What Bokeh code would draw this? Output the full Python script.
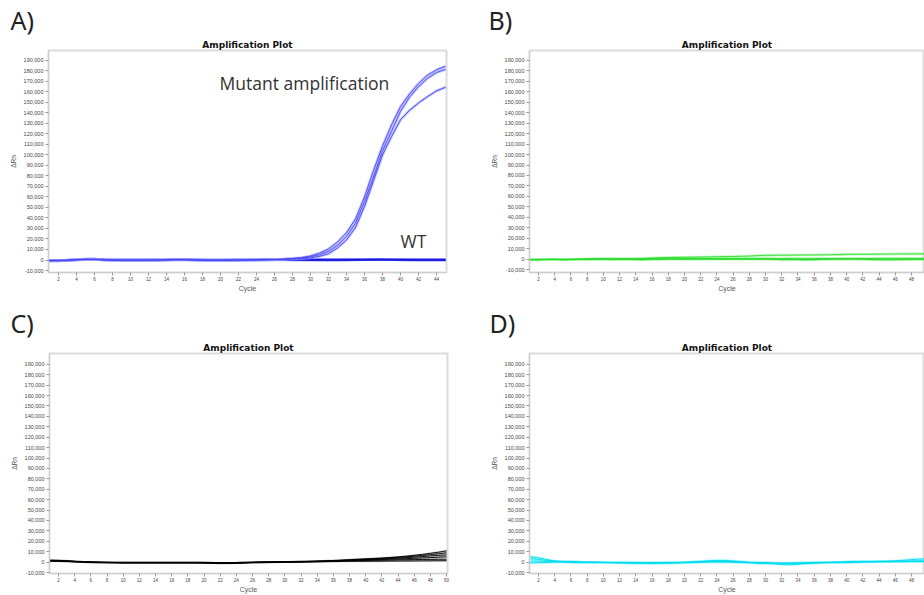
from bokeh.plotting import figure
from bokeh.models import FixedTicker, NumeralTickFormatter, Title, Label
from bokeh.layouts import column, row
from bokeh.embed import file_html
from bokeh.resources import INLINE

# ---------------- data ----------------
cycles_a = list(range(1, 46))
cycles_50 = list(range(1, 51))

# Panel A - mutant amplification curves
mut_a1 = [-600, -500, -200, 200, 600, 500, 0, -100, -100, -100,
          -100, -100, -50, 100, 300, 200, 0, -100, -100, -100,
          -50, 0, 100, 200, 300, 500, 800, 1500, 2300, 3800,
          6500, 10500, 17000, 26000, 39000, 60000, 85000, 108500, 128500, 146000,
          158000, 168000, 176000, 181000, 184500]
mut_a2 = [-800, -700, -300, 100, 500, 600, 100, -100, -200, -200,
          -150, -100, -100, 0, 200, 300, 100, -100, -200, -200,
          -150, -100, 0, 100, 200, 400, 700, 1200, 1800, 3000,
          5000, 8300, 14000, 22500, 35000, 55500, 79000, 104000, 122500, 141500,
          155000, 165000, 173000, 178500, 181500]
mut_a3 = [-400, -300, -100, 300, 800, 700, 200, 0, -100, -100,
          -100, -50, 0, 200, 400, 300, 100, 0, -100, -100,
          -100, -50, 0, 100, 200, 300, 500, 800, 1100, 2000,
          3500, 6000, 11500, 19000, 31000, 51000, 75500, 100000, 117500, 133500,
          142500, 149500, 155500, 161000, 164500]
# Panel A - wild type
wt_a1 = [-900, -800, -400, 100, 600, 700, 300, 0, -100, -100,
         -100, -100, -50, 100, 300, 300, 100, -100, -200, -200,
         -150, -100, -50, 0, 100, 100, 100, 0, 0, 0,
         -100, -100, -100, 0, 100, 200, 300, 300, 200, 100,
         0, -100, -100, -100, -100]
wt_a2 = [-500, -400, -200, 200, 800, 900, 400, 100, 0, 0,
         0, 0, 50, 200, 400, 400, 200, 0, -100, -100,
         -100, -50, 0, 100, 200, 200, 200, 100, 100, 100,
         0, 0, 0, 100, 200, 300, 400, 400, 300, 200,
         100, 0, 0, 0, 0]
wt_a3 = [-300, -200, 0, 300, 700, 800, 400, 200, 100, 100,
         100, 100, 100, 200, 400, 400, 200, 100, 0, 0,
         0, 100, 200, 300, 400, 400, 500, 500, 500, 500,
         500, 500, 500, 500, 500, 500, 500, 500, 500, 500,
         500, 500, 500, 500, 500]

# Panel B - green
grn_1 = [-500, -600, -400, -300, -500, -300, -200, -100, 0, 100,
         200, 300, 400, 500, 700, 1000, 1300, 1500, 1700, 1800,
         1900, 2000, 2100, 2300, 2400, 2500, 2700, 2900, 3300, 3600,
         3700, 3800, 3800, 3900, 4000, 4000, 4100, 4200, 4300, 4500,
         4600, 4600, 4700, 4800, 4800, 4900, 5000, 5000, 5000, 5100]
grn_2 = [-300, -400, -300, -200, -300, -200, -100, 0, 100, 200,
         200, 200, 300, 300, 400, 600, 700, 800, 800, 700,
         600, 500, 500, 500, 500, 500, 500, 500, 500, 500,
         500, 500, 500, 500, 500, 500, 500, 500, 600, 600,
         600, 600, 600, 700, 700, 700, 700, 700, 700, 700]
grn_3 = [-800, -700, -400, -300, -700, -500, -200, -100, 0, -200,
         -300, -300, -300, -500, -600, -300, -100, 0, 0, 0,
         0, 0, 0, 0, 0, 0, 0, 0, 0, 0,
         -200, -600, -400, -500, -700, -600, -300, -100, 0, 0,
         0, -200, -500, -600, -600, -600, -500, -400, -300, -300]
grn_4 = [-400, -300, -200, -100, -300, -200, -100, 0, 100, 100,
         0, -100, -200, -300, -400, -200, 0, 100, 100, 100,
         100, 100, 100, 100, 100, 100, 100, 100, 100, 100,
         0, -300, -200, -300, -400, -300, -100, 0, 100, 100,
         100, 0, -200, -300, -300, -300, -200, -200, -100, -100]

# Panel C - black
blk_1 = [1800, 1600, 1200, 700, 300, 0, -200, -300, -400, -500,
         -500, -500, -500, -500, -500, -500, -500, -500, -500, -600,
         -800, -900, -900, -800, -500, -300, -100, 0, 100, 200,
         300, 500, 700, 900, 1200, 1500, 1900, 2300, 2700, 3100,
         3500, 3900, 4400, 5000, 5700, 6500, 7400, 8400, 9500, 10800]
blk_2 = [1500, 1400, 1000, 600, 200, -100, -300, -400, -500, -600,
         -600, -600, -600, -600, -600, -600, -600, -600, -600, -700,
         -900, -1000, -1000, -900, -600, -400, -200, -100, 0, 100,
         200, 400, 600, 800, 1000, 1300, 1600, 2000, 2400, 2800,
         3100, 3500, 4000, 4500, 5000, 5700, 6400, 7200, 8000, 8900]
blk_3 = [1300, 1200, 900, 500, 200, 0, -200, -300, -400, -500,
         -500, -500, -500, -500, -500, -500, -500, -500, -500, -600,
         -700, -800, -800, -700, -500, -300, -100, 0, 100, 200,
         300, 400, 500, 700, 900, 1100, 1400, 1700, 2100, 2500,
         2800, 3100, 3400, 3800, 4300, 4800, 5300, 5900, 6400, 7000]
blk_4 = [1100, 1000, 800, 400, 100, -100, -300, -400, -500, -600,
         -600, -600, -600, -600, -600, -600, -600, -600, -600, -700,
         -900, -1000, -1000, -900, -700, -400, -200, -100, 0, 100,
         200, 300, 400, 600, 800, 1000, 1200, 1500, 1800, 2000,
         2300, 2500, 2800, 3000, 3300, 3600, 4000, 4300, 4700, 5100]
blk_5 = [1600, 1400, 1000, 600, 200, 0, -200, -300, -400, -400,
         -400, -400, -400, -400, -400, -400, -400, -400, -400, -500,
         -700, -800, -800, -700, -400, -200, -100, 0, 0, 100,
         200, 300, 400, 500, 700, 900, 1100, 1300, 1400, 1500,
         1700, 1800, 2000, 2200, 2300, 2400, 2500, 2600, 2700, 2800]
blk_6 = [900, 800, 600, 300, 0, -200, -400, -500, -600, -600,
         -600, -600, -600, -600, -600, -600, -600, -600, -600, -700,
         -800, -900, -900, -800, -600, -400, -300, -200, -100, 0,
         100, 200, 300, 400, 500, 600, 700, 700, 800, 800,
         900, 900, 1000, 1000, 1100, 1100, 1200, 1200, 1300, 1300]

# Panel D - cyan
cyn_1 = [5000, 4200, 2500, 1000, 600, 300, 0, -200, -300, -400,
         -500, -600, -700, -800, -900, -900, -800, -700, -600, -300,
         0, 400, 800, 1000, 900, 500, 0, -500, -800, -900,
         -1000, -1100, -1000, -900, -700, -500, -300, -200, -100, 0,
         200, 400, 600, 700, 900, 1200, 1700, 2400, 2900, 3200]
cyn_2 = [3200, 2600, 1600, 800, 500, 200, 0, -100, -200, -300,
         -400, -500, -600, -700, -800, -800, -700, -600, -500, -300,
         0, 600, 1200, 1600, 1600, 1000, 300, -300, -700, -1000,
         -1500, -2200, -2500, -2000, -1400, -900, -600, -400, -200, 0,
         200, 300, 400, 500, 600, 800, 900, 1000, 1100, 1200]
cyn_3 = [1000, 900, 700, 400, 300, 100, 0, -100, -200, -300,
         -400, -500, -500, -600, -700, -700, -600, -500, -400, -200,
         0, 200, 400, 500, 400, 200, 0, -300, -600, -800,
         -900, -1000, -1100, -1000, -800, -600, -400, -300, -100, 0,
         200, 300, 400, 500, 500, 600, 700, 700, 800, 800]
cyn_4 = [-800, -600, -300, 0, 100, 0, -100, -200, -300, -400,
         -500, -600, -700, -800, -900, -1000, -1000, -900, -800, -600,
         -400, -200, 0, 100, 100, 0, -200, -500, -800, -1000,
         -1200, -1300, -1200, -1000, -900, -700, -500, -400, -200, 0,
         100, 200, 200, 300, 300, 400, 400, 500, 500, 500]

y_ticks = list(range(-10000, 190001, 10000))
x_ticks_a = list(range(2, 46, 2))
x_ticks_50 = list(range(2, 51, 2))

panel_letters = ["A)", "B)", "C)", "D)"]
plot_title = "Amplification Plot"
x_label = "Cycle"
y_label = "\u0394Rn"


def make_panel(letter, width, height, x_rng, y_rng, b_left, b_right, b_top,
               b_bottom, x_ticks, title_offset, letter_offset):
    p = figure(width=width, height=height, x_range=x_rng, y_range=y_rng,
               output_backend="svg", toolbar_location=None,
               min_border_left=b_left, min_border_right=b_right,
               min_border_top=b_top, min_border_bottom=b_bottom)
    p.grid.visible = False
    p.background_fill_color = "white"
    p.border_fill_color = "white"
    p.outline_line_color = "#dcdcdc"
    p.outline_line_width = 2

    p.yaxis.ticker = FixedTicker(ticks=y_ticks)
    p.yaxis.formatter = NumeralTickFormatter(format="0,0")
    p.xaxis.ticker = FixedTicker(ticks=x_ticks)
    for ax in (p.xaxis[0], p.yaxis[0]):
        ax.axis_line_color = "#cfcfcf"
        ax.axis_line_width = 1
        ax.major_tick_line_color = "#999999"
        ax.major_tick_out = 3
        ax.major_tick_in = 0
        ax.minor_tick_line_color = None
        ax.major_label_text_font = "Liberation Sans"
        ax.major_label_text_color = "#444444"
        ax.axis_label_text_font = "Liberation Sans"
        ax.axis_label_text_font_style = "normal"
        ax.axis_label_text_color = "#555555"
    p.yaxis.major_label_text_font_size = "5.5px"
    p.yaxis.major_label_standoff = 2
    p.xaxis.major_label_text_font_size = "4.5px"
    p.xaxis.major_label_standoff = 1
    p.xaxis.axis_label = x_label
    p.xaxis.axis_label_text_font_size = "7px"
    p.xaxis.axis_label_standoff = 1
    p.yaxis.axis_label = y_label
    p.yaxis.axis_label_text_font_size = "6.5px"
    p.yaxis.axis_label_standoff = 4

    p.add_layout(Title(text=plot_title, align="center", offset=title_offset,
                       standoff=2, text_font="DejaVu Sans",
                       text_font_style="bold", text_font_size="9px",
                       text_color="#111111"), "above")
    p.add_layout(Title(text=letter, align="left", offset=letter_offset,
                       standoff=0, text_font="Noto Sans",
                       text_font_style="normal", text_font_size="25px",
                       text_color="#222222"), "above")
    return p


def draw(p, xs, series, halo, core, halo_w=2.6, core_w=1.0, halo_alpha=0.55):
    for ys in series:
        p.line(xs, ys, line_color=halo, line_width=halo_w, line_alpha=halo_alpha)
    for ys in series:
        p.line(xs, ys, line_color=core, line_width=core_w, line_alpha=0.9)


# A
pA = make_panel(panel_letters[0], 460, 303, (0.888, 45.11), (-11900, 199450),
                48, 14, 50, 29, x_ticks_a, -18, -38)
draw(pA, cycles_a, [wt_a1, wt_a2, wt_a3], "#6a6aff", "#1818e0",
     halo_w=2.6, core_w=1.5, halo_alpha=0.55)
draw(pA, cycles_a, [mut_a1, mut_a2, mut_a3], "#a0a0ff", "#4646f4",
     halo_w=2.8, core_w=1.0, halo_alpha=0.6)
pA.add_layout(Label(x=19.9, y=168300, text="Mutant amplification",
                    text_baseline="middle", text_align="left",
                    text_font="Open Sans", text_font_size="17.5px",
                    text_color="#333333"))
pA.add_layout(Label(x=40.0, y=18300, text="WT",
                    text_baseline="middle", text_align="left",
                    text_font="Open Sans", text_font_size="17.5px",
                    text_color="#333333"))

# B
pB = make_panel(panel_letters[1], 464, 303, (0.89, 49.6), (-12800, 199500),
                69, 0, 48, 31, x_ticks_50, -16, -41)
draw(pB, cycles_50, [grn_1, grn_2, grn_3, grn_4], "#8af58a", "#2fdc2f",
     halo_w=2.6, core_w=1.0, halo_alpha=0.55)

# C
pC = make_panel(panel_letters[2], 460, 292, (0.886, 50.12), (-10950, 200400),
                49, 13, 50, 19, x_ticks_50, -18, -39)
draw(pC, cycles_50, [blk_1, blk_2, blk_3, blk_4, blk_5, blk_6], "#777777",
     "#000000", halo_w=2.0, core_w=1.0, halo_alpha=0.4)

# D
pD = make_panel(panel_letters[3], 464, 292, (0.89, 49.6), (-10950, 200400),
                69, 0, 50, 19, x_ticks_50, -16, -40)
draw(pD, cycles_50, [cyn_1, cyn_2, cyn_3, cyn_4], "#7ff3ff", "#00dcec",
     halo_w=2.6, core_w=1.0, halo_alpha=0.55)

layout = column(row(pA, pB), row(pC, pD))

open("out.html", "w").write(file_html(layout, INLINE))
